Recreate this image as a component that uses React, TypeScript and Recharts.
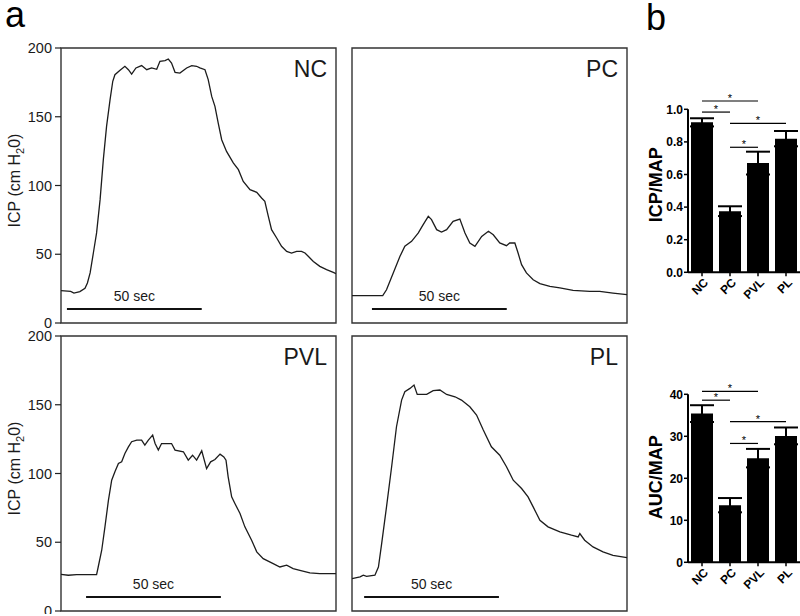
import React from "react";
import {
  Bar,
  BarChart,
  ErrorBar,
  Label,
  Line,
  LineChart,
  ReferenceArea,
  ReferenceLine,
  XAxis,
  YAxis,
} from "recharts";

const FONT = '"Liberation Sans", Arial, Helvetica, sans-serif';
const INK = "#1a1a1a";

// ICP traces (time in sec from left edge of the box, ICP in cm H2O)
const ncTime = [0, 3.6, 4.8, 7, 8.9, 9.8, 10.8, 12, 13.2, 14.5, 15.7, 16.9, 18.2, 19.2, 20, 21.9, 23.7, 25, 26.2, 27.8, 29.9, 31.8, 33.6, 35.5, 36.7, 38.6, 39.8, 41, 42.3, 44.1, 46.6, 48.5, 50.3, 51.5, 53.4, 54.6, 55.9, 57.1, 58.3, 59.6, 61.4, 63.9, 65.8, 67.6, 70.1, 72.6, 74.4, 75.6, 76.9, 78.1, 80, 81.8, 83.7, 85.5, 87.4, 89.2, 90.5, 91.7, 93.6, 96, 98.5, 101, 102];
const ncIcp = [23.5, 23, 21.8, 22.8, 25.2, 29.1, 36.4, 50.9, 65.5, 89.7, 118.8, 143, 162.4, 175.8, 180.6, 183.8, 186.7, 184.2, 181, 185.5, 187.2, 184.2, 185.5, 184.5, 190.3, 190.8, 192, 189.1, 182.3, 181.8, 185.5, 187.2, 186.7, 185.5, 184.2, 177, 164.8, 157.6, 145.5, 133.3, 124.8, 116.4, 111.5, 103, 97, 95, 90.9, 88.5, 77.6, 67.9, 61.8, 55.8, 52.1, 50.9, 52.1, 52.1, 50.9, 48.5, 44.8, 41.2, 38.8, 36.8, 35.9];

const pcTime = [0, 11.4, 12.8, 15.3, 17.8, 19.6, 22.1, 24.6, 26.4, 28.3, 29.5, 31.4, 33.2, 35.1, 37.5, 40, 41.9, 43.7, 45.6, 48.1, 50.6, 52.4, 54.8, 57.3, 58.5, 60.4, 61.6, 62.9, 64.7, 67.2, 69.7, 73.4, 77.1, 82, 88.2, 91.9, 96.8, 102];
const pcIcp = [19.9, 19.9, 24.2, 36.4, 48.5, 55.8, 59.4, 65.5, 71.5, 77.6, 75.2, 67.9, 66.2, 67.9, 73.9, 75.6, 65.5, 58.2, 55.8, 63, 66.7, 64.2, 58.2, 56.2, 58.2, 58.2, 50.9, 42.4, 36.4, 31.5, 28.6, 26.7, 25.5, 23.8, 23, 23, 21.8, 20.6];

const pvlTime = [0, 2.7, 5.8, 13.2, 13.8, 15.1, 16.3, 17.6, 18.8, 20, 21.3, 22.5, 23.7, 25, 26.2, 28.1, 29.9, 31.1, 32.4, 34, 34.9, 36.1, 37.3, 41, 42.3, 45.4, 47.2, 48.8, 50.3, 52.2, 54, 55.5, 57.1, 59, 60.4, 61.2, 62, 63.3, 64.5, 66.4, 68.2, 70.7, 72.6, 75, 78.7, 81.2, 83.7, 86.1, 88.6, 92.3, 96, 102];
const pvlIcp = [26.7, 26, 26.5, 26.5, 32, 44.2, 61.2, 80.6, 95.1, 101.2, 107.3, 108.5, 114.6, 119.4, 123.1, 124.3, 124.3, 120.6, 124.3, 127.9, 121.8, 117, 121.8, 121.8, 117, 115.8, 109.7, 113.3, 109.7, 116.5, 103.6, 108.5, 110.2, 114.1, 112.1, 109.7, 97.6, 83, 78.2, 70.9, 61.2, 51.5, 43, 38.1, 34.5, 32, 33.3, 30.8, 29.6, 27.7, 27.2, 27.2];

const plTime = [0, 3, 4.2, 5.4, 8.5, 9.8, 11, 12.8, 14.7, 16.5, 18.4, 19.6, 21.5, 23, 24.2, 27.7, 30.1, 32.6, 35.1, 38.2, 40.6, 43.7, 46.2, 48.7, 51.7, 54.8, 57.3, 59.8, 62.9, 65.3, 67.2, 69.7, 72.7, 77.1, 81.4, 83.9, 84.5, 86.3, 89.4, 93.1, 96.8, 102];
const plIcp = [23.5, 24.8, 26, 25.2, 26, 32, 49, 75.7, 104.9, 134, 153.4, 159.5, 161.9, 164.3, 157.5, 157.5, 160.2, 160.7, 157.5, 155.8, 153.4, 148.5, 142.5, 131.6, 119.4, 113.3, 104.9, 95.1, 89.1, 83, 75.7, 66, 61.2, 57.5, 55.1, 53.9, 56.3, 51.5, 46.6, 43, 40.5, 38.8];

// where the 50 sec scale bar starts in each panel (sec)
const scaleBarStart = [2.2, 7.4, 9.3, 4.5];
const icpTicks = [0, 50, 100, 150, 200];

// panel b
const groups = ["NC", "PC", "PVL", "PL"];
const icpMapMean = [0.92, 0.375, 0.67, 0.82];
const icpMapSem = [0.025, 0.03, 0.07, 0.047];
const aucMapMean = [35.4, 13.6, 24.8, 30.1];
const aucMapSem = [2.0, 1.7, 2.2, 2.0];
const icpMapTicks = [0, 0.2, 0.4, 0.6, 0.8, 1.0];
const aucMapTicks = [0, 10, 20, 30, 40];

// significance brackets: from, to, height
const icpMapSig: [string, string, number][] = [
  ["NC", "PVL", 1.051],
  ["NC", "PC", 0.983],
  ["PC", "PL", 0.914],
  ["PC", "PVL", 0.767],
];
const aucMapSig: [string, string, number][] = [
  ["NC", "PVL", 40.7],
  ["NC", "PC", 38.6],
  ["PC", "PL", 33.5],
  ["PC", "PVL", 28.3],
];

const IcpAxisLabel = (props: any) => {
  const vb = props.viewBox || { x: 0, y: 18, height: 275 };
  const cx = vb.x + 20;
  const cy = vb.y + vb.height / 2 - 5;
  return (
    <text
      transform={`translate(${cx},${cy}) rotate(-90)`}
      textAnchor="middle"
      fontSize={16}
      fontFamily={FONT}
      fill={INK}
    >
      ICP (cm H
      <tspan fontSize={11} dy={4}>
        2
      </tspan>
      <tspan dy={-4}>0)</tspan>
    </text>
  );
};

function TracePanel(props: {
  name: string;
  time: number[];
  icp: number[];
  barStart: number;
  left: number;
  top: number;
  height: number;
  withAxis: boolean;
}) {
  const { name, time, icp, barStart, left, top, height, withAxis } = props;
  const data = time.map((t, i) => ({ t, icp: icp[i] }));
  const width = withAxis ? 345 : 300;
  const margin = withAxis
    ? { top: 18, right: 9, bottom: height - 293, left: 0 }
    : { top: 18, right: 13, bottom: height - 293, left: 12 };
  return (
    <div style={{ position: "absolute", left, top }}>
      <LineChart width={width} height={height} data={data} margin={margin}>
        <XAxis type="number" dataKey="t" domain={[0, 102]} allowDataOverflow hide />
        {withAxis ? (
          <YAxis
            domain={[0, 200]}
            ticks={icpTicks}
            interval={0}
            allowDataOverflow
            width={61}
            axisLine={false}
            tickLine={{ stroke: "#222", strokeWidth: 1.2 }}
            tickSize={6}
            tickMargin={3}
            tick={{ fontSize: 14.5, fill: INK, fontFamily: FONT }}
          >
            <Label content={IcpAxisLabel} />
          </YAxis>
        ) : (
          <YAxis domain={[0, 200]} allowDataOverflow hide />
        )}
        <ReferenceArea
          x1={0}
          x2={102}
          y1={0}
          y2={200}
          fill="none"
          stroke="#333"
          strokeWidth={1.4}
          ifOverflow="visible"
        >
          <Label
            value={name}
            position="insideTopRight"
            offset={9}
            dy={4}
            fontSize={23}
            fill={INK}
            fontFamily={FONT}
          />
        </ReferenceArea>
        <ReferenceLine
          segment={[
            { x: barStart, y: 10.2 },
            { x: barStart + 50, y: 10.2 },
          ]}
          stroke="#111"
          strokeWidth={2.2}
          ifOverflow="visible"
        >
          <Label value="50 sec" position="top" offset={8} fontSize={14} fill={INK} fontFamily={FONT} />
        </ReferenceLine>
        <Line
          type="linear"
          dataKey="icp"
          stroke="#1c1c1c"
          strokeWidth={1.3}
          dot={false}
          isAnimationActive={false}
        />
      </LineChart>
    </div>
  );
}

const GroupTick = (props: any) => {
  const { x, y, payload } = props;
  const ax = x + 7;
  const ay = y + 5;
  return (
    <text
      x={ax}
      y={ay}
      transform={`rotate(-45 ${ax} ${ay})`}
      textAnchor="end"
      fontSize={12}
      fontWeight="bold"
      fontFamily={FONT}
      fill="#000"
    >
      {payload.value}
    </text>
  );
};

function BarPanel(props: {
  top: number;
  height: number;
  marginTop: number;
  marginBottom: number;
  means: number[];
  sems: number[];
  sig: [string, string, number][];
  ticks: number[];
  digits: number;
  ylabel: string;
  labelShift: number;
}) {
  const { top, height, marginTop, marginBottom, means, sems, sig, ticks, digits, ylabel, labelShift } = props;
  const data = groups.map((g, i) => ({ group: g, mean: means[i], sem: sems[i] }));
  const yMax = ticks[ticks.length - 1];
  const renderLabel = (p: any) => {
    const vb = p.viewBox || { x: 0, y: marginTop, height: height - marginTop - marginBottom - 40 };
    const cx = vb.x + 22;
    const cy = vb.y + vb.height / 2 + labelShift;
    return (
      <text
        transform={`translate(${cx},${cy}) rotate(-90)`}
        textAnchor="middle"
        fontSize={18}
        fontWeight="bold"
        fontFamily={FONT}
        fill="#000"
      >
        {ylabel}
      </text>
    );
  };
  return (
    <div style={{ position: "absolute", left: 640, top }}>
      <BarChart
        width={160}
        height={height}
        data={data}
        margin={{ top: marginTop, right: 0, bottom: marginBottom, left: 0 }}
      >
        <XAxis
          dataKey="group"
          height={40}
          axisLine={{ stroke: "#000", strokeWidth: 2 }}
          tickLine={{ stroke: "#000", strokeWidth: 1.5 }}
          tickSize={4}
          tick={<GroupTick />}
          interval={0}
        />
        <YAxis
          domain={[0, yMax]}
          ticks={ticks}
          interval={0}
          allowDataOverflow
          width={48}
          axisLine={{ stroke: "#000", strokeWidth: 2 }}
          tickLine={{ stroke: "#000", strokeWidth: 1.5 }}
          tickSize={4}
          tickMargin={1}
          tickFormatter={(v) => Number(v).toFixed(digits)}
          tick={{ fontSize: 12, fontWeight: "bold", fill: "#000", fontFamily: FONT }}
        >
          <Label content={renderLabel} />
        </YAxis>
        <Bar dataKey="mean" fill="#000" barSize={22} isAnimationActive={false}>
          <ErrorBar dataKey="sem" direction="y" width={12} strokeWidth={2} stroke="#000" />
        </Bar>
        {sig.map(([a, b, h]) => (
          <ReferenceLine
            key={`${a}-${b}`}
            segment={[
              { x: a, y: h },
              { x: b, y: h },
            ]}
            stroke="#000"
            strokeWidth={1.2}
            ifOverflow="visible"
          >
            <Label value="*" position="top" offset={-1} fontSize={11} fill="#000" fontFamily={FONT} />
          </ReferenceLine>
        ))}
      </BarChart>
    </div>
  );
}

export default function App() {
  return (
    <div
      style={{
        position: "absolute",
        left: 0,
        top: 0,
        width: 800,
        height: 616,
        overflow: "hidden",
        background: "#fff",
        fontFamily: FONT,
      }}
    >
      <TracePanel name="NC" time={ncTime} icp={ncIcp} barStart={scaleBarStart[0]} left={0} top={30} height={300} withAxis />
      <TracePanel name="PC" time={pcTime} icp={pcIcp} barStart={scaleBarStart[1]} left={340} top={30} height={300} withAxis={false} />
      <TracePanel name="PVL" time={pvlTime} icp={pvlIcp} barStart={scaleBarStart[2]} left={0} top={318} height={296} withAxis />
      <TracePanel name="PL" time={plTime} icp={plIcp} barStart={scaleBarStart[3]} left={340} top={318} height={296} withAxis={false} />
      <BarPanel
        top={60}
        height={260}
        marginTop={49.3}
        marginBottom={7.7}
        means={icpMapMean}
        sems={icpMapSem}
        sig={icpMapSig}
        ticks={icpMapTicks}
        digits={1}
        ylabel="ICP/MAP"
        labelShift={-6}
      />
      <BarPanel
        top={350}
        height={264}
        marginTop={44.3}
        marginBottom={11.7}
        means={aucMapMean}
        sems={aucMapSem}
        sig={aucMapSig}
        ticks={aucMapTicks}
        digits={0}
        ylabel="AUC/MAP"
        labelShift={-1}
      />
      <svg width={800} height={616} style={{ position: "absolute", left: 0, top: 0, pointerEvents: "none" }}>
        <text x={5} y={27} fontSize={36} fontFamily={FONT} fill="#000">
          a
        </text>
        <text x={646} y={30} fontSize={36} fontFamily={FONT} fill="#000">
          b
        </text>
      </svg>
    </div>
  );
}
